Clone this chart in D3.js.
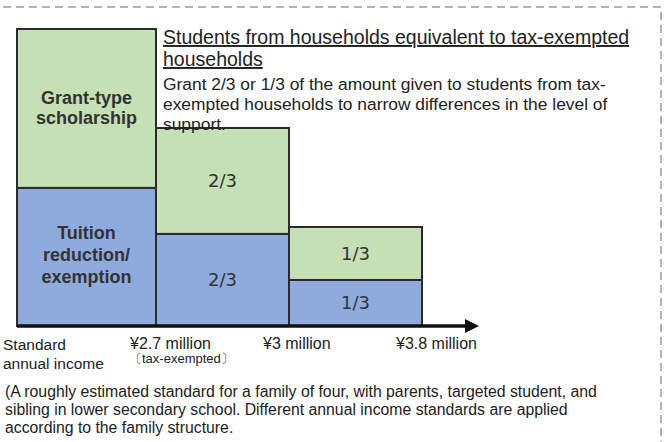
<!DOCTYPE html>
<html>
<head>
<meta charset="utf-8">
<script src="https://cdn.jsdelivr.net/npm/d3@7"></script>
<style>
  body { margin: 0; background: #fff; }
  text { font-family: "Liberation Sans", Arial, sans-serif; fill: #222; }
</style>
</head>
<body>
<div class="chart"></div>
<script>
// income steps (bar boundaries) and labels
const steps = ["std", "2.7", "3", "3.8"];
const stepLabels = ["", "¥2.7 million", "¥3 million", "¥3.8 million"];
// share of full support in each band
const tuitionShare = [1, 2 / 3, 1 / 3];
const grantShare = [1, 2 / 3, 1 / 3];
const shareLabels = ["", "2/3", "1/3"];
// relative size of the full amounts
const tuitionFull = 1;
const grantFull = 1.15;

const W = 668, H = 442;
const svg = d3.select(".chart").append("svg").attr("width", W).attr("height", H);

// dashed frame
svg.append("path")
  .attr("d", "M3,7 H661 V442")
  .attr("fill", "none")
  .attr("stroke", "#9a9a9a")
  .attr("stroke-width", 1.5)
  .attr("stroke-dasharray", "8,5");

// scales (first band is a little wider than the others)
const x = d3.scaleOrdinal().domain(steps).range([17, 156, 289, 422]);
const y = d3.scaleLinear().domain([0, tuitionFull + grantFull]).range([326, 29]);

const bars = tuitionShare.map((t, i) => ({
  x0: x(steps[i]), x1: x(steps[i + 1]),
  t: t * tuitionFull, g: grantShare[i] * grantFull, label: shareLabels[i]
}));

const g = svg.append("g");
// tuition part
g.selectAll(".tuition").data(bars).enter().append("rect")
  .attr("x", d => d.x0).attr("width", d => d.x1 - d.x0)
  .attr("y", d => y(d.t)).attr("height", d => y(0) - y(d.t))
  .attr("fill", "#8faadc").attr("stroke", "#2b2b2b").attr("stroke-width", 2);
// grant part
g.selectAll(".grant").data(bars).enter().append("rect")
  .attr("x", d => d.x0).attr("width", d => d.x1 - d.x0)
  .attr("y", d => y(d.t + d.g)).attr("height", d => y(d.t) - y(d.t + d.g))
  .attr("fill", "#c5e0b4").attr("stroke", "#2b2b2b").attr("stroke-width", 2);

// fraction labels
bars.slice(1).forEach(d => {
  const cx = (d.x0 + d.x1) / 2;
  [d.t / 2, d.t + d.g / 2].forEach(v => {
    g.append("text").attr("x", cx).attr("y", y(v))
      .attr("dy", "0.35em").attr("text-anchor", "middle")
      .style("font-family", "'DejaVu Sans', sans-serif")
      .style("font-size", "18px").style("fill", "#333")
      .text(d.label);
  });
});

// bold labels in first bar
const b0 = bars[0], c0 = (b0.x0 + b0.x1) / 2;
[["Grant-type", 98], ["scholarship", 118], ["Tuition", 233], ["reduction/", 255], ["exemption", 277]]
  .forEach(([t, yy]) => {
    g.append("text").attr("x", c0).attr("y", yy).attr("dy", "0.35em")
      .attr("text-anchor", "middle").style("font-weight", "bold")
      .style("font-size", "18px").style("fill", "#333").text(t);
  });

// axis with arrow
svg.append("line").attr("x1", 17).attr("x2", 468).attr("y1", y(0)).attr("y2", y(0))
  .attr("stroke", "#111").attr("stroke-width", 3.5);
svg.append("path").attr("d", `M465,${y(0) - 7} L479,${y(0)} L465,${y(0) + 7} Z`).attr("fill", "#111");

// tick labels
steps.forEach((s, i) => {
  if (!stepLabels[i]) return;
  svg.append("text").attr("x", x(s) - 26).attr("y", 349)
    .style("font-size", "16px").text(stepLabels[i]);
});
svg.append("text").attr("x", x(steps[1]) - 27).attr("y", 363)
  .style("font-size", "13px").text("〔tax-exempted〕");
svg.append("text").attr("x", 3).attr("y", 350).style("font-size", "15.5px").text("Standard");
svg.append("text").attr("x", 3).attr("y", 369).style("font-size", "15.5px").text("annual income");

// heading and description
svg.append("text").attr("x", 163).attr("y", 44).style("font-size", "19.5px")
  .style("text-decoration", "underline").text("Students from households equivalent to tax-exempted");
svg.append("text").attr("x", 163).attr("y", 66).style("font-size", "19.5px")
  .style("text-decoration", "underline").text("households");
["Grant 2/3 or 1/3 of the amount given to students from tax-",
 "exempted households to narrow differences in the level of",
 "support."].forEach((t, i) => {
  svg.append("text").attr("x", 163).attr("y", 90 + i * 20).style("font-size", "17.4px").text(t);
});

// footnote
["(A roughly estimated standard for a family of four, with parents, targeted student, and",
 "sibling in lower secondary school. Different annual income standards are applied",
 "according to the family structure."].forEach((t, i) => {
  svg.append("text").attr("x", 5).attr("y", 397 + i * 18).style("font-size", "15.8px").text(t);
});
</script>
</body>
</html>
